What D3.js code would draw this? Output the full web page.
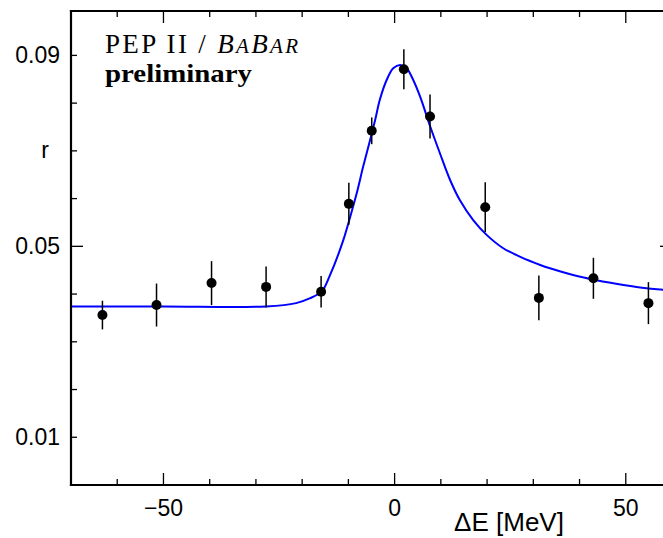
<!DOCTYPE html>
<html>
<head>
<meta charset="utf-8">
<script src="https://cdn.jsdelivr.net/npm/d3@7"></script>
<style>
  html, body { margin: 0; padding: 0; background: #fff; overflow: hidden; }
  svg { display: block; }
</style>
</head>
<body>
<svg id="chart" width="663" height="538"></svg>
<script>
// measured points (delta E in MeV, ratio r, error on r)
var deltaE = [-63.2, -51.5, -39.6, -27.8, -15.9, -9.9, -4.95, 2.0, 7.66, 19.6, 31.2, 43.0, 54.9];
var ratio = [0.0356, 0.0377, 0.0423, 0.0415, 0.0405, 0.0589, 0.0742, 0.0871, 0.0772, 0.0582, 0.0392, 0.0433, 0.0381];
var ratioErr = [0.0030, 0.0045, 0.0046, 0.0043, 0.0033, 0.0044, 0.0028, 0.0042, 0.0046, 0.0052, 0.0047, 0.0043, 0.0044];

// fitted curve
var fitE = [-70, -50, -27.8, -21.3, -18.4, -15.8, -14.0, -11.1, -9.6, -8.2, -6.8, -5.3, -4.2, -3.2, -1.7, -0.3, 1.2,
            2.6, 4.0, 5.5, 7.7, 9.8, 12.0, 14.1, 17.0, 19.9, 23.5, 27.2, 31.5, 33.6, 38.6, 43.7, 49.5, 54.5, 58.1, 60];
var fitR = [0.0374, 0.0374, 0.0374, 0.0381, 0.0391, 0.0405, 0.0439, 0.0513, 0.0562, 0.0611, 0.0667, 0.0723, 0.0765, 0.0807, 0.0849, 0.0873, 0.0880,
            0.0873, 0.0849, 0.0814, 0.0751, 0.0695, 0.0639, 0.0597, 0.0555, 0.0524, 0.0496, 0.0478, 0.0461, 0.0454, 0.0440, 0.0429, 0.0419, 0.0412, 0.0409, 0.0407];

// ticks
var xMajor = [-50, 0, 50];
var xMinor = [-60, -40, -30, -20, -10, 10, 20, 30, 40];
var yMajor = [0.05];
var yMinor = [0.01, 0.02, 0.03, 0.04, 0.06, 0.07, 0.08, 0.09];
var yLabels = [0.01, 0.05, 0.09];

var svg = d3.select("#chart"),
    pLeft = 71, pRight = 672, pTop = 11, pBottom = 485;

var x = d3.scaleLinear().domain([-70, 60]).range([pLeft, pRight]);
var y = d3.scaleLinear().domain([0, 0.0993]).range([pBottom, pTop]);

var sans = "'Liberation Sans', Arial, sans-serif",
    serif = "'Liberation Serif', 'Times New Roman', serif";

svg.append("defs").append("clipPath").attr("id", "plotclip")
    .append("rect").attr("x", pLeft).attr("y", pTop)
    .attr("width", pRight - pLeft).attr("height", pBottom - pTop);

// tick marks, inward, on all four sides
function tickLines(g, vals, len, horizontal) {
    vals.forEach(function (v) {
        if (horizontal) {
            g.append("line").attr("x1", x(v)).attr("x2", x(v)).attr("y1", pBottom).attr("y2", pBottom - len);
            g.append("line").attr("x1", x(v)).attr("x2", x(v)).attr("y1", pTop).attr("y2", pTop + len);
        } else {
            g.append("line").attr("y1", y(v)).attr("y2", y(v)).attr("x1", pLeft).attr("x2", pLeft + len);
            g.append("line").attr("y1", y(v)).attr("y2", y(v)).attr("x1", pRight).attr("x2", pRight - len);
        }
    });
}
var ticks = svg.append("g").attr("stroke", "#000").attr("stroke-width", 1.3);
tickLines(ticks, xMajor, 12, true);
tickLines(ticks, xMinor, 6, true);
tickLines(ticks, yMajor, 12, false);
tickLines(ticks, yMinor, 6, false);

// tick labels
svg.append("g").selectAll("text")
    .data(xMajor)
    .enter().append("text")
    .attr("x", function (d) { return x(d); })
    .attr("y", 516)
    .attr("text-anchor", "middle")
    .attr("font-family", sans).attr("font-size", 23)
    .text(function (d) { return d < 0 ? "\u2212" + Math.abs(d) : d; });

svg.append("g").selectAll("text")
    .data(yLabels)
    .enter().append("text")
    .attr("x", 60)
    .attr("y", function (d) { return y(d); })
    .attr("dy", "0.35em")
    .attr("text-anchor", "end")
    .attr("font-family", sans).attr("font-size", 23)
    .text(function (d) { return d3.format(".2f")(d); });

// axis titles
svg.append("text")
    .attr("x", 45).attr("y", y(0.07)).attr("dy", "0.3em")
    .attr("text-anchor", "middle")
    .attr("font-family", sans).attr("font-size", 23)
    .text("r");

svg.append("text")
    .attr("x", 509).attr("y", 531)
    .attr("text-anchor", "middle")
    .attr("font-family", sans).attr("font-size", 26)
    .text("\u0394E [MeV]");

// fitted curve
var line = d3.line()
    .x(function (d) { return x(d[0]); })
    .y(function (d) { return y(d[1]); })
    .curve(d3.curveCatmullRom.alpha(0.5));

svg.append("path")
    .datum(fitE.map(function (e, i) { return [e, fitR[i]]; }))
    .attr("clip-path", "url(#plotclip)")
    .attr("fill", "none")
    .attr("stroke", "#0000ff")
    .attr("stroke-width", 2)
    .attr("d", line);

// data points with error bars
var pts = deltaE.map(function (e, i) { return {e: e, r: ratio[i], err: ratioErr[i]}; });
var gp = svg.append("g").attr("clip-path", "url(#plotclip)");

gp.selectAll(".err")
    .data(pts)
    .enter().append("line")
    .attr("class", "err")
    .attr("x1", function (d) { return x(d.e); })
    .attr("x2", function (d) { return x(d.e); })
    .attr("y1", function (d) { return y(d.r - d.err); })
    .attr("y2", function (d) { return y(d.r + d.err); })
    .attr("stroke", "#000")
    .attr("stroke-width", 1.5);

gp.selectAll(".dot")
    .data(pts)
    .enter().append("circle")
    .attr("class", "dot")
    .attr("cx", function (d) { return x(d.e); })
    .attr("cy", function (d) { return y(d.r); })
    .attr("r", 5)
    .attr("fill", "#000");

// frame
var frame = svg.append("g").attr("stroke", "#000").attr("stroke-width", 2.2).attr("stroke-linecap", "square");
frame.append("line").attr("x1", pLeft).attr("x2", pLeft).attr("y1", pTop).attr("y2", pBottom);
frame.append("line").attr("x1", pLeft).attr("x2", pRight).attr("y1", pBottom).attr("y2", pBottom);
frame.append("line").attr("x1", pLeft).attr("x2", pRight).attr("y1", pTop).attr("y2", pTop);
frame.append("line").attr("x1", pRight).attr("x2", pRight).attr("y1", pTop).attr("y2", pBottom);

// experiment label
var lab = svg.append("text")
    .attr("x", 105).attr("y", 53)
    .attr("font-family", serif).attr("font-size", 27)
    .attr("textLength", 193)
    .attr("lengthAdjust", "spacing");
lab.append("tspan").text("PEP II / ");
lab.append("tspan").attr("font-style", "italic").text("B");
lab.append("tspan").attr("font-style", "italic").attr("font-size", 21).text("A");
lab.append("tspan").attr("font-style", "italic").text("B");
lab.append("tspan").attr("font-style", "italic").attr("font-size", 21).text("AR");

svg.append("text")
    .attr("x", 105).attr("y", 82)
    .attr("font-family", serif).attr("font-size", 25)
    .attr("font-weight", "bold")
    .attr("textLength", 147)
    .attr("lengthAdjust", "spacingAndGlyphs")
    .text("preliminary");
</script>
</body>
</html>
